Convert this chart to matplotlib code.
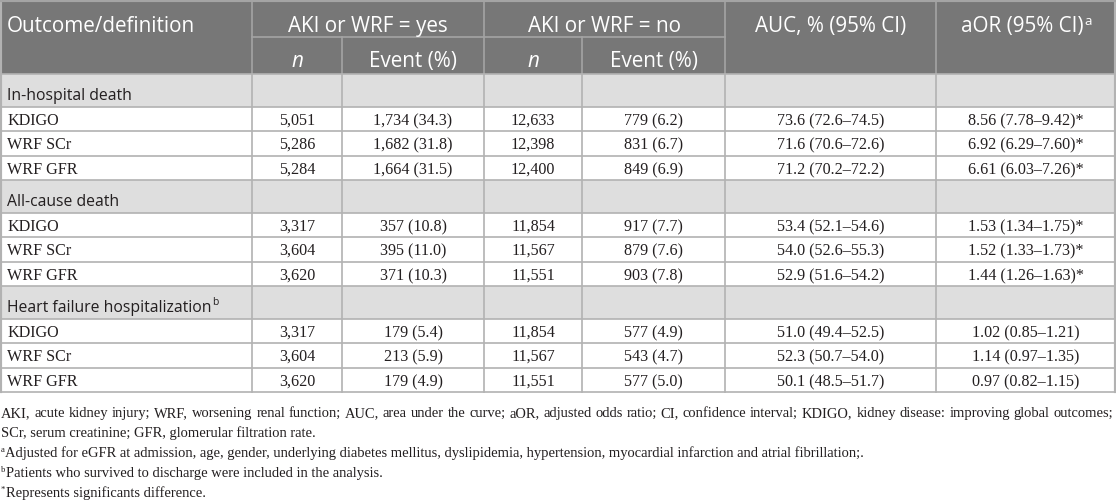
import matplotlib
matplotlib.use("Agg")
import matplotlib.pyplot as plt
from matplotlib.patches import Rectangle

# ---------------- data ----------------
sections = ["In-hospital death", "All-cause death", "Heart failure hospitalization"]
section_sup = ["", "", "b"]
definitions = ["KDIGO", "WRF SCr", "WRF GFR"]
yes_n = [["5,051", "5,286", "5,284"],
         ["3,317", "3,604", "3,620"],
         ["3,317", "3,604", "3,620"]]
yes_event = [["1,734 (34.3)", "1,682 (31.8)", "1,664 (31.5)"],
             ["357 (10.8)", "395 (11.0)", "371 (10.3)"],
             ["179 (5.4)", "213 (5.9)", "179 (4.9)"]]
no_n = [["12,633", "12,398", "12,400"],
        ["11,854", "11,567", "11,551"],
        ["11,854", "11,567", "11,551"]]
no_event = [["779 (6.2)", "831 (6.7)", "849 (6.9)"],
            ["917 (7.7)", "879 (7.6)", "903 (7.8)"],
            ["577 (4.9)", "543 (4.7)", "577 (5.0)"]]
auc = [["73.6 (72.6–74.5)", "71.6 (70.6–72.6)", "71.2 (70.2–72.2)"],
       ["53.4 (52.1–54.6)", "54.0 (52.6–55.3)", "52.9 (51.6–54.2)"],
       ["51.0 (49.4–52.5)", "52.3 (50.7–54.0)", "50.1 (48.5–51.7)"]]
aor = [["8.56 (7.78–9.42)*", "6.92 (6.29–7.60)*", "6.61 (6.03–7.26)*"],
       ["1.53 (1.34–1.75)*", "1.52 (1.33–1.73)*", "1.44 (1.26–1.63)*"],
       ["1.02 (0.85–1.21)", "1.14 (0.97–1.35)", "0.97 (0.82–1.15)"]]
header_groups = ["AKI or WRF = yes", "AKI or WRF = no"]
sub_headers = ["n", "Event (%)"]
header_first = "Outcome/definition"
header_auc = "AUC, % (95% CI)"
header_aor = "aOR (95% CI)"
header_aor_sup = "a"
footnotes = [
    ("", "AKI, acute kidney injury; WRF, worsening renal function; AUC, area under the curve; aOR, adjusted odds ratio; CI, confidence interval; KDIGO, kidney disease: improving global outcomes;"),
    ("", "SCr, serum creatinine; GFR, glomerular filtration rate."),
    ("a", "Adjusted for eGFR at admission, age, gender, underlying diabetes mellitus, dyslipidemia, hypertension, myocardial infarction and atrial fibrillation;."),
    ("b", "Patients who survived to discharge were included in the analysis."),
    ("*", "Represents significants difference."),
]

# ---------------- layout ----------------
W, H = 1116, 504
fig = plt.figure(figsize=(W / 100, H / 100), dpi=100)
ax = fig.add_axes([0, 0, 1, 1])
ax.set_xlim(0, W)
ax.set_ylim(H, 0)
ax.axis("off")
renderer = fig.canvas.get_renderer()

SANS = "Open Sans"
SERIF = "Liberation Serif"
HEAD_BG = "#777777"
SEC_BG = "#dedede"
GRID = "#b2b2b2"
HGRID = "#a4a4a4"
TXT = "#231f20"

col_x = [0, 252, 342, 484, 582, 725, 936, 1116]
h_row = [0, 37, 74]
SEC_H = 33
ROW_H = 24.33


def width_of(s, **kw):
    t = ax.text(0, 0, s, **kw)
    w = t.get_window_extent(renderer).width
    t.remove()
    return w


def fit(s, target, family, **kw):
    w = width_of(s, fontsize=10, family=family, **kw)
    return 10 * target / w


fs_head = fit(header_groups[0], 159, SANS)
fs_sec = fit("Heart failure hospitalization", 205, SANS)
fs_body = fit("1,734 (34.3)", 79, SERIF)
fs_foot = min(fit(footnotes[2][1], 880, SERIF), fit(footnotes[0][1], 1106, SERIF))

# header background
ax.add_patch(Rectangle((0, 0), W, h_row[2], facecolor=HEAD_BG, edgecolor="none"))

# compute row positions
rows = []  # (kind, y0, y1, payload)
y = h_row[2]
for si, sec in enumerate(sections):
    rows.append(("sec", y, y + SEC_H, si))
    y += SEC_H
    for ri in range(len(definitions)):
        rows.append(("body", y, y + ROW_H, (si, ri)))
        y += ROW_H
table_bottom = y

for kind, y0, y1, p in rows:
    if kind == "sec":
        ax.add_patch(Rectangle((0, y0), W, y1 - y0, facecolor=SEC_BG, edgecolor="none"))

# grid lines in header
lw = 1.2
ax.plot([col_x[1], col_x[5]], [h_row[1], h_row[1]], color=HGRID, lw=lw)
for xi in [1, 3, 5, 6]:
    ax.plot([col_x[xi], col_x[xi]], [0, h_row[2]], color=HGRID, lw=lw)
for xi in [2, 4]:
    ax.plot([col_x[xi], col_x[xi]], [h_row[1], h_row[2]], color=HGRID, lw=lw)
# body grid
for xi in range(1, 7):
    ax.plot([col_x[xi], col_x[xi]], [h_row[2], table_bottom], color=GRID, lw=lw)
for kind, y0, y1, p in rows:
    ax.plot([0, W], [y1, y1], color=GRID, lw=lw)
ax.plot([0, W], [h_row[2], h_row[2]], color=GRID, lw=lw)
# outer border
ax.plot([0.7, 0.7], [0, table_bottom], color=GRID, lw=lw * 1.3)
ax.plot([W - 0.7, W - 0.7], [0, table_bottom], color=GRID, lw=lw * 1.3)
ax.plot([0, W], [0.7, 0.7], color=HGRID, lw=lw * 1.3)

# header texts (baseline positions)
yb1 = h_row[1] - 5
yb2 = h_row[2] - 7
ax.text(7, yb1, header_first, family=SANS, fontsize=fs_head, color="white", va="baseline", ha="left")
for gi, g in enumerate(header_groups):
    xa, xb = col_x[1 + 2 * gi], col_x[3 + 2 * gi]
    ax.text((xa + xb) / 2, yb1, g, family=SANS, fontsize=fs_head, color="white", va="baseline", ha="center")
    for si, s in enumerate(sub_headers):
        xa2, xb2 = col_x[1 + 2 * gi + si], col_x[2 + 2 * gi + si]
        ax.text((xa2 + xb2) / 2, yb2, s, family=SANS, fontsize=fs_head, color="white",
                va="baseline", ha="center", style="italic" if s == "n" else "normal")
ax.text((col_x[5] + col_x[6]) / 2, yb1, header_auc, family=SANS, fontsize=fs_head, color="white",
        va="baseline", ha="center")
wa = width_of(header_aor, family=SANS, fontsize=fs_head)
wsup = width_of(header_aor_sup, family=SANS, fontsize=fs_head * 0.65)
xc = (col_x[6] + col_x[7]) / 2
x0 = xc - (wa + wsup) / 2
ax.text(x0, yb1, header_aor, family=SANS, fontsize=fs_head, color="white", va="baseline", ha="left")
ax.text(x0 + wa + 0.5, yb1 - 7, header_aor_sup, family=SANS, fontsize=fs_head * 0.65, color="white",
        va="baseline", ha="left")

# body texts
cols_data = [yes_n, yes_event, no_n, no_event, auc, aor]
for kind, y0, y1, p in rows:
    if kind == "sec":
        s = sections[p]
        ax.text(7, y1 - 7, s, family=SANS, fontsize=fs_sec, color=TXT, va="baseline", ha="left")
        if section_sup[p]:
            ws = width_of(s, family=SANS, fontsize=fs_sec)
            ax.text(7 + ws + 0.5, y1 - 14, section_sup[p], family=SANS, fontsize=fs_sec * 0.65,
                    color=TXT, va="baseline", ha="left")
    else:
        si, ri = p
        yb = round(y0 + 18)
        ax.text(7, yb, definitions[ri], family=SERIF, fontsize=fs_body, color=TXT,
                va="baseline", ha="left")
        for ci, cd in enumerate(cols_data):
            xm = (col_x[ci + 1] + col_x[ci + 2]) / 2
            ax.text(xm, yb, cd[si][ri], family=SERIF, fontsize=fs_body, color=TXT,
                    va="baseline", ha="center")

# footnotes
fy = [417, 437, 457, 477, 497]
for i, (sup, txt) in enumerate(footnotes):
    x = 1
    if sup:
        ax.text(x, fy[i] - 5, sup, family=SERIF, fontsize=fs_foot * 0.6, color=TXT,
                va="baseline", ha="left")
        x += width_of(sup, family=SERIF, fontsize=fs_foot * 0.6) + 0.5
    if i == 0:
        words = txt.split(" ")
        ws = [width_of(w, family=SERIF, fontsize=fs_foot) for w in words]
        target = 1113 - x
        gap = (target - sum(ws)) / (len(words) - 1)
        xx = x
        for w, ww in zip(words, ws):
            ax.text(xx, fy[i], w, family=SERIF, fontsize=fs_foot, color=TXT, va="baseline", ha="left")
            xx += ww + gap
    else:
        ax.text(x, fy[i], txt, family=SERIF, fontsize=fs_foot, color=TXT, va="baseline", ha="left")

fig.savefig("out.png", dpi=100)
